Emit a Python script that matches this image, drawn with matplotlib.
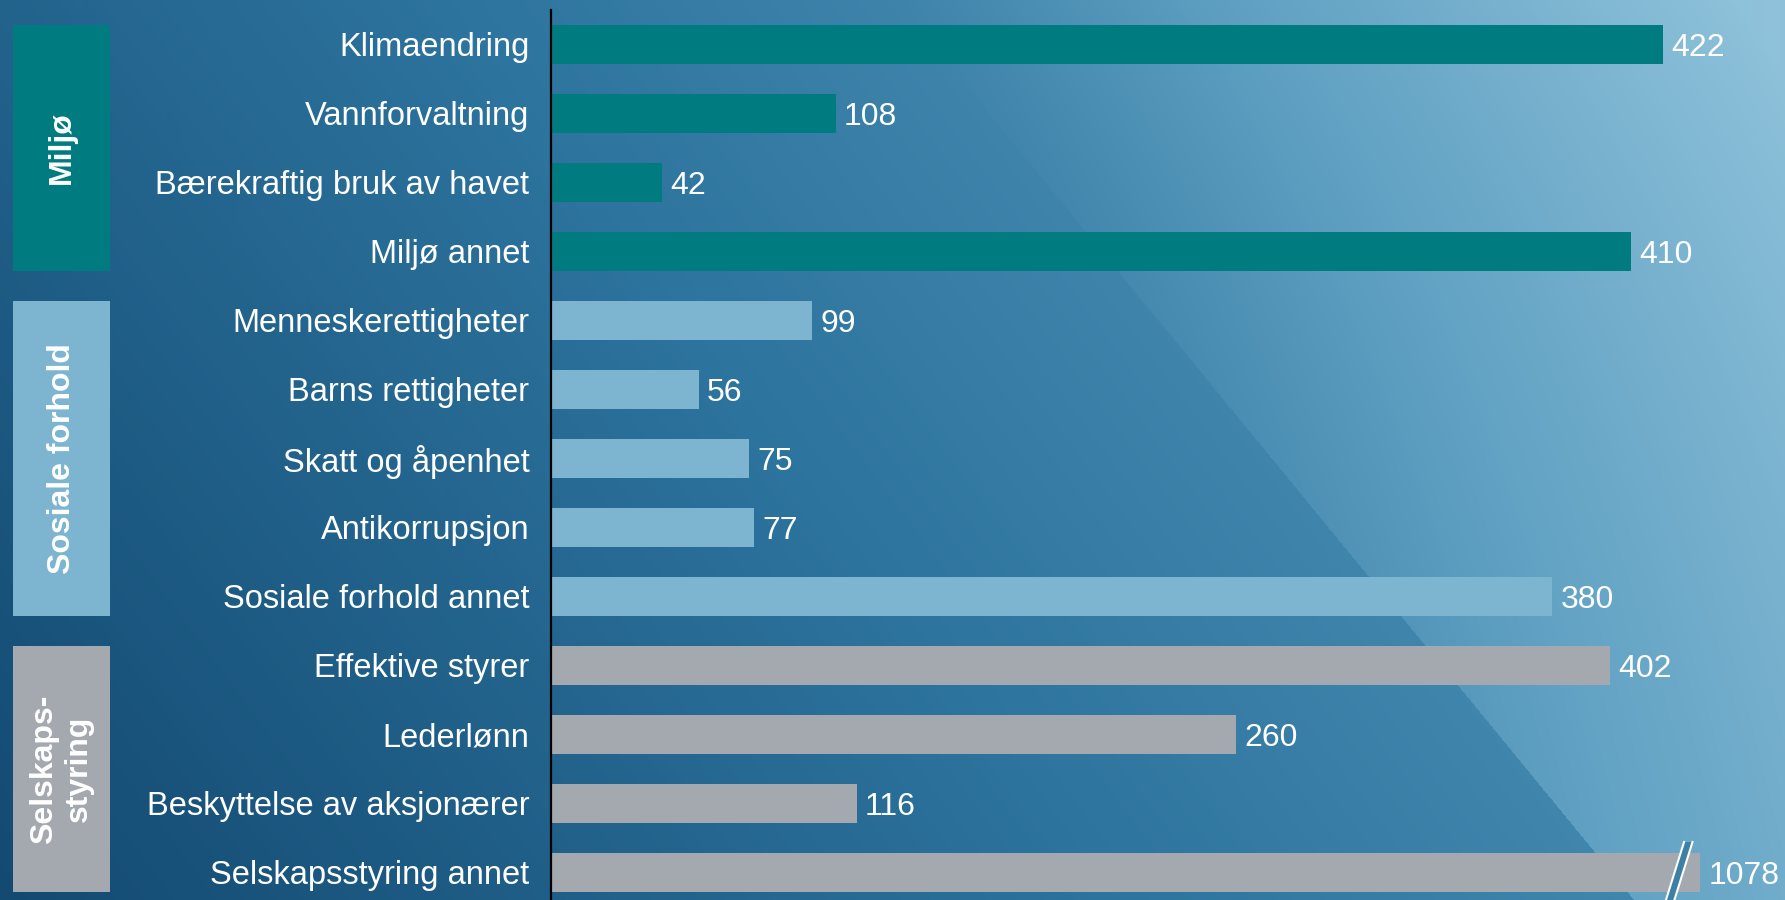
import numpy as np
import matplotlib
matplotlib.use("Agg")
import matplotlib.pyplot as plt
from matplotlib.patches import Rectangle, Polygon
from matplotlib.transforms import blended_transform_factory
from matplotlib.colors import LinearSegmentedColormap

plt.rcParams['font.family'] = ['Liberation Sans', 'DejaVu Sans']

# ---- data ----
categories = ["Klimaendring", "Vannforvaltning", "Bærekraftig bruk av havet", "Miljø annet",
              "Menneskerettigheter", "Barns rettigheter", "Skatt og åpenhet", "Antikorrupsjon",
              "Sosiale forhold annet",
              "Effektive styrer", "Lederlønn", "Beskyttelse av aksjonærer", "Selskapsstyring annet"]
values = [422, 108, 42, 410, 99, 56, 75, 77, 380, 402, 260, 116, 1078]
groups = ["Miljø", "Sosiale forhold", "Selskaps-\nstyring"]
group_sizes = [4, 5, 4]
group_colors = ["#007C80", "#7DB4D0", "#A4A9AF"]
AXIS_CAP = 436  # bars longer than this are drawn broken

W, H, DPI = 1785, 900, 100
fig = plt.figure(figsize=(W / DPI, H / DPI), dpi=DPI)

# ---- background gradient ----
yy, xx = np.mgrid[0:H, 0:W]
u = xx / W
v = yy / H
t = 0.18 * (1 - v) + 0.48 * u
diag_x = 895 + 0.82 * yy
d = xx - diag_x
step = np.where(d > 0, 0.24 * v ** 1.5 + 0.00042 * d, 0.0)
t = np.clip(t + step, 0, 1)
cmap = LinearSegmentedColormap.from_list("bg", [
    (0.0, (19/255, 74/255, 114/255)),
    (0.3, (45/255, 116/255, 158/255)),
    (0.65, (95/255, 160/255, 194/255)),
    (1.0, (142/255, 193/255, 218/255))])
img = cmap(t)
bgax = fig.add_axes([0, 0, 1, 1], zorder=0)
bgax.imshow(img, aspect='auto', extent=[0, 1, 0, 1], origin='upper', interpolation='bilinear')
bgax.axis('off')

# ---- main axes ----
left = 551 / W
top = 1 - 10 / H
ax = fig.add_axes([left, 0, 1 - left, top], zorder=1)
ax.patch.set_alpha(0)
n = len(categories)
y = np.arange(n)
colors = []
for g, s in enumerate(group_sizes):
    colors += [group_colors[g]] * s
disp = [min(vv, AXIS_CAP) for vv in values]
bar_h = 0.56
ax.barh(y, disp, height=bar_h, color=colors, zorder=2)
ax.set_ylim(12.4, -0.5)
ax.set_xlim(0, (W - 551) / 2.635)

ax.set_yticks(y)
ax.set_yticklabels(categories, fontsize=23.5, color='white')
ax.tick_params(axis='y', length=0, pad=15.5)
for lab in ax.get_yticklabels():
    lab.set_verticalalignment('center_baseline')
ax.set_xticks([])
for s in ['top', 'right', 'bottom']:
    ax.spines[s].set_visible(False)
ax.spines['left'].set_color('black')
ax.spines['left'].set_linewidth(1.6)
ax.spines['left'].set_zorder(5)

# value labels
for yi, vv, dv in zip(y, values, disp):
    ax.annotate(str(vv), xy=(dv, yi), xytext=(6, -8.2), textcoords='offset points',
                ha='left', va='baseline', fontsize=23, color='white', zorder=4)

# break marks for capped bars
for yi, vv, dv in zip(y, values, disp):
    if vv > AXIS_CAP:
        xb = dv - 8
        yt = yi - bar_h / 2 - 0.16
        yb = yi + bar_h / 2 + 0.16
        sl = 3.6
        hw = 1.6
        poly = Polygon([(xb - hw + sl, yt), (xb + hw + sl, yt), (xb + hw - sl, yb), (xb - hw - sl, yb)],
                       closed=True, facecolor="#3c80a6", edgecolor='none', zorder=3, clip_on=False)
        ax.add_patch(poly)
        ax.plot([xb - hw + sl, xb - hw - sl], [yt, yb], color='white', lw=1.5, zorder=3.5, clip_on=False)
        ax.plot([xb + hw + sl, xb + hw - sl], [yt, yb], color='white', lw=1.5, zorder=3.5, clip_on=False)

# group boxes
trans = blended_transform_factory(fig.transFigure, ax.transData)
bx0, bx1 = 13 / W, 110 / W
start = 0
for g, s in enumerate(group_sizes):
    y0 = start - bar_h / 2
    y1 = start + s - 1 + bar_h / 2
    ax.add_patch(Rectangle((bx0, y0), bx1 - bx0, y1 - y0, transform=trans,
                           facecolor=group_colors[g], edgecolor='none', clip_on=False, zorder=2))
    ax.text((bx0 + bx1) / 2, (y0 + y1) / 2, groups[g], transform=trans, rotation=90,
            ha='center', va='center', fontsize=23, fontweight='bold', color='white',
            linespacing=1.2, multialignment='center', zorder=3)
    start += s

fig.savefig("out.png", dpi=DPI)
